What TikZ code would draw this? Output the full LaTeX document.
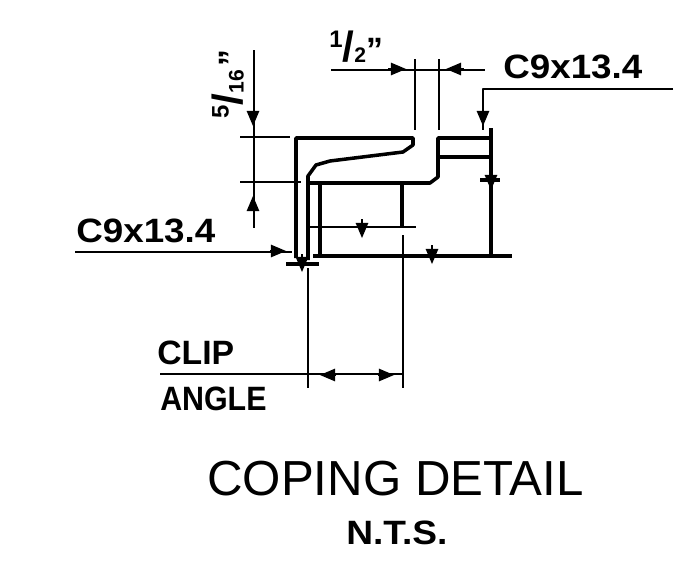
\documentclass[tikz,border=0pt]{standalone}
\usepackage{fontspec}
\setmainfont{Liberation Sans}
\usetikzlibrary{arrows}
\newcommand{\cadfrac}[2]{\raisebox{.42em}{\fontsize{17}{17}\selectfont #1}{\fontsize{30}{30}\selectfont/}\raisebox{-.02em}{\fontsize{15}{15}\selectfont #2}}
\tikzset{
  heavy/.style={line width=2.5pt},
  thinline/.style={line width=1.2pt},
  dimtip/.style={line width=1.5pt,->},
  cadlabel/.style={inner sep=0pt,font=\fontsize{24}{24}\bfseries},
}
\begin{document}
\begin{tikzpicture}[line cap=butt,line join=round,>=triangle 45,x=0.025cm,y=-0.025cm]
\useasboundingbox [fill=white] (0,0) rectangle (692,572);
% coping plate and channel
\draw [heavy] (296,258)-- (296,138)-- (413,138)-- (413,145)-- (403,152)-- (330,161)-- (316,165)-- (308,176)-- (308,260);
\draw [heavy] (309,183)-- (430,183)-- (438,177)-- (438,138)-- (491,138);
\draw [heavy] (439,157)-- (491,157);
\draw [heavy] (491,128)-- (491,256);
\draw [heavy] (313,256)-- (512,256);
\draw [heavy] (320,185)-- (320,256);
\draw [heavy] (402,185)-- (402,228);
% dimension lines
\draw [thinline] (254,50)-- (254,228);
\draw [thinline] (240,137)-- (290,137);
\draw [thinline] (240,182)-- (301,182);
\draw [thinline] (331,70)-- (485,70);
\draw [thinline] (415,59)-- (415,130);
\draw [thinline] (439,59)-- (439,130);
\draw [thinline] (673,89)-- (483,89)-- (483,130);
\draw [thinline] (75,252)-- (292,252);
\draw [thinline] (310,227)-- (416,227);
\draw [thinline] (308,268)-- (308,388);
\draw [thinline] (403,235)-- (403,388);
\draw [thinline] (160,374)-- (403,374);
\draw [heavy] (286,264)-- (319,264);
\draw [heavy] (480,180)-- (500,180);
% arrow heads
\draw [dimtip] (388,69)-- (406,69);
\draw [dimtip] (464,69)-- (446,69);
\draw [dimtip] (253,112)-- (253,126);
\draw [dimtip] (253,210)-- (253,196);
\draw [dimtip] (483,112)-- (483,126);
\draw [dimtip] (491,176)-- (491,190);
\draw [dimtip] (270,251)-- (286,251);
\draw [dimtip] (302,254)-- (302,272);
\draw [dimtip] (362,219)-- (362,238);
\draw [dimtip] (432,245)-- (432,264);
\draw [dimtip] (336,375)-- (320,375);
\draw [dimtip] (378,375)-- (394,375);
% labels
\node [cadlabel,anchor=west,xscale=1.09] (topsize) at (503,67) {C9x13.4};
\node [cadlabel,anchor=west,xscale=1.09] (leftsize) at (76,231) {C9x13.4};
\node [cadlabel,anchor=west] (halfgap) at (329,47) {\cadfrac{1}{2}"};
\node [cadlabel,anchor=west,rotate=90] (platedepth) at (228,119) {\cadfrac{5}{16}\kern.1em"};
\node [cadlabel,anchor=west] (clipword) at (157,353) {CLIP};
\node [cadlabel,anchor=west,xscale=.9] (angleword) at (160,399) {ANGLE};
\node [inner sep=0pt,anchor=west,font=\fontsize{35}{35}\selectfont] (title) at (207,479) {COPING DETAIL};
\node [cadlabel,anchor=west,xscale=1.1] (scalenote) at (346,533) {N.T.S.};
\end{tikzpicture}
\end{document}
